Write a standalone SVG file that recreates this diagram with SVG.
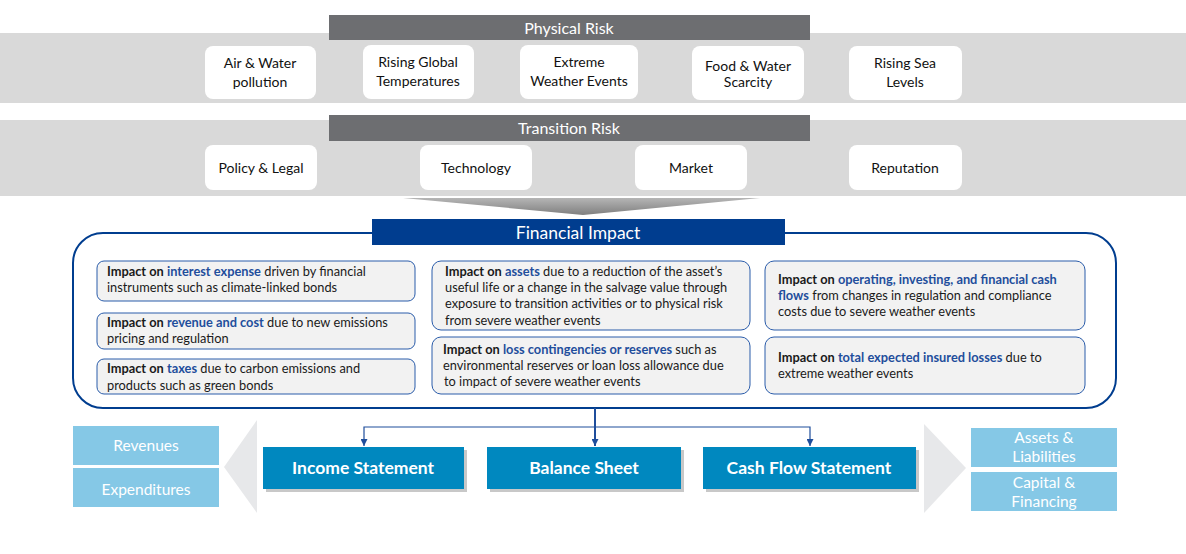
<svg xmlns="http://www.w3.org/2000/svg" width="1186" height="554" viewBox="0 0 1186 554">
<defs>
<style>
.t{font-family:Lato,"Open Sans","Liberation Sans",sans-serif;}
.band{fill:#d9d9d9;}
.hdr{fill:#6d6e71;}
.hdrt{fill:#fff;font-size:16px;text-anchor:middle;}
.wb{fill:#fff;}
.wbt{fill:#111;font-size:14px;text-anchor:middle;}
.ib{fill:#f2f2f2;stroke:#2a5caa;stroke-width:1;}
.it{fill:#1a1a1a;font-size:12.8px;}
.b{font-weight:bold;}
.hl{fill:#1f4e9c;font-weight:bold;}
.fs{fill:#0088bf;}
.sh{fill:#c8c8c8;}
.fst{fill:#fff;font-size:17.5px;font-weight:bold;text-anchor:middle;}
.lb{fill:#85c8e6;}
.lbt{fill:#fff;font-size:15.5px;text-anchor:middle;}
.tri{fill:#e7e8ea;}
.conn{fill:none;stroke:#1f4e9c;}
</style>
<linearGradient id="chev" x1="0" y1="0" x2="0" y2="1">
<stop offset="0" stop-color="#b5b5b5"/>
<stop offset="1" stop-color="#7f7f7f"/>
</linearGradient>
<marker id="ah" viewBox="0 0 10 10" refX="10" refY="5" markerWidth="7" markerHeight="7" orient="auto" markerUnits="userSpaceOnUse">
<path d="M0,0 L10,5 L0,10 z" fill="#1f4e9c"/>
</marker>
</defs>
<rect width="1186" height="554" fill="#fff"/>

<g id="physical-risk" class="t">
<rect class="band" x="0" y="33" width="1186" height="70"/>
<rect class="hdr" x="329" y="15" width="481" height="25"/>
<text class="hdrt" x="569" y="33.5">Physical Risk</text>
</g>
<g id="air-water" class="t"><rect class="wb" x="205" y="46" width="111" height="53" rx="8"/><text class="wbt" x="260" y="68">Air &amp; Water</text><text class="wbt" x="260" y="87">pollution</text></g>
<g id="rising-global" class="t"><rect class="wb" x="363" y="45" width="111" height="54" rx="8"/><text class="wbt" x="418" y="67">Rising Global</text><text class="wbt" x="418" y="86">Temperatures</text></g>
<g id="extreme-weather" class="t"><rect class="wb" x="520" y="45" width="118" height="54" rx="8"/><text class="wbt" x="579" y="67">Extreme</text><text class="wbt" x="579" y="86">Weather Events</text></g>
<g id="food-water" class="t"><rect class="wb" x="692" y="46" width="112" height="54" rx="8"/><text class="wbt" x="748" y="71">Food &amp; Water</text><text class="wbt" x="748" y="87">Scarcity</text></g>
<g id="rising-sea" class="t"><rect class="wb" x="849" y="46" width="113" height="54" rx="8"/><text class="wbt" x="905" y="68">Rising Sea</text><text class="wbt" x="905" y="87">Levels</text></g>

<g id="transition-risk" class="t">
<rect class="band" x="0" y="120" width="1186" height="76"/>
<rect class="hdr" x="329" y="115" width="481" height="26"/>
<text class="hdrt" x="569" y="134">Transition Risk</text>
</g>
<g id="policy-legal" class="t"><rect class="wb" x="205" y="145" width="112" height="45" rx="8"/><text class="wbt" x="261" y="172.5">Policy &amp; Legal</text></g>
<g id="technology" class="t"><rect class="wb" x="420" y="145" width="112" height="45" rx="8"/><text class="wbt" x="476" y="172.5">Technology</text></g>
<g id="market" class="t"><rect class="wb" x="635" y="145" width="112" height="45" rx="8"/><text class="wbt" x="691" y="172.5">Market</text></g>
<g id="reputation" class="t"><rect class="wb" x="849" y="145" width="113" height="45" rx="8"/><text class="wbt" x="905" y="172.5">Reputation</text></g>

<polygon id="chevron-down" points="403,198 760,198 583,215" fill="url(#chev)"/>

<g id="financial-impact" class="t">
<rect x="73" y="233" width="1043" height="175" rx="30" fill="#fff" stroke="#003d8f" stroke-width="2"/>
<rect x="372" y="219" width="413" height="26" fill="#003d8f"/>
<text x="578" y="238.5" fill="#fff" font-size="17.5" text-anchor="middle">Financial Impact</text>
</g>

<g id="impact-interest" class="t"><rect class="ib" x="97" y="261" width="318" height="40" rx="7"/>
<text class="it" x="107" y="276"><tspan class="b">Impact on </tspan><tspan class="hl">interest expense</tspan> driven by financial</text>
<text class="it" x="107" y="292">instruments such as climate-linked bonds</text></g>
<g id="impact-revenue" class="t"><rect class="ib" x="97" y="313" width="318" height="36" rx="7"/>
<text class="it" x="107" y="327"><tspan class="b">Impact on </tspan><tspan class="hl">revenue and cost</tspan> due to new emissions</text>
<text class="it" x="107" y="343">pricing and regulation</text></g>
<g id="impact-taxes" class="t"><rect class="ib" x="97" y="359" width="318" height="35" rx="7"/>
<text class="it" x="107" y="373"><tspan class="b">Impact on </tspan><tspan class="hl">taxes</tspan> due to carbon emissions and</text>
<text class="it" x="107" y="390">products such as green bonds</text></g>

<g id="impact-assets" class="t"><rect class="ib" x="432" y="261" width="318" height="69" rx="9"/>
<text class="it" x="445" y="276"><tspan class="b">Impact on </tspan><tspan class="hl">assets</tspan> due to a reduction of the asset’s</text>
<text class="it" x="445" y="292">useful life or a change in the salvage value through</text>
<text class="it" x="445" y="308">exposure to transition activities or to physical risk</text>
<text class="it" x="445" y="325">from severe weather events</text></g>
<g id="impact-loss" class="t"><rect class="ib" x="432" y="337" width="318" height="57" rx="9"/>
<text class="it" x="443" y="354"><tspan class="b">Impact on </tspan><tspan class="hl">loss contingencies or reserves</tspan> such as</text>
<text class="it" x="443" y="370">environmental reserves or loan loss allowance due</text>
<text class="it" x="444" y="386">to impact of severe weather events</text></g>

<g id="impact-cashflows" class="t"><rect class="ib" x="765" y="261" width="320" height="69" rx="9"/>
<text class="it" x="778" y="284"><tspan class="b">Impact on </tspan><tspan class="hl">operating, investing, and financial cash</tspan></text>
<text class="it" x="778" y="300"><tspan class="hl">flows</tspan> from changes in regulation and compliance</text>
<text class="it" x="778" y="316">costs due to severe weather events</text></g>
<g id="impact-insured" class="t"><rect class="ib" x="765" y="337" width="320" height="57" rx="9"/>
<text class="it" x="778" y="362"><tspan class="b">Impact on </tspan><tspan class="hl">total expected insured losses</tspan> due to</text>
<text class="it" x="778" y="378">extreme weather events</text></g>

<g id="connectors">
<line class="conn" x1="595" y1="408" x2="595" y2="446" stroke-width="2" marker-end="url(#ah)"/>
<polyline class="conn" points="595,427 364,427 364,446" stroke-width="1.2" marker-end="url(#ah)"/>
<polyline class="conn" points="595,427 810,427 810,446" stroke-width="1.2" marker-end="url(#ah)"/>
</g>

<g id="income-statement" class="t"><rect class="sh" x="266" y="450" width="201" height="42"/><rect class="fs" x="263" y="447" width="201" height="42"/><text class="fst" x="363" y="474">Income Statement</text></g>
<g id="balance-sheet" class="t"><rect class="sh" x="490" y="450" width="194" height="42"/><rect class="fs" x="487" y="447" width="194" height="42"/><text class="fst" x="584" y="474">Balance Sheet</text></g>
<g id="cash-flow-statement" class="t"><rect class="sh" x="706" y="450" width="213" height="42"/><rect class="fs" x="703" y="447" width="213" height="42"/><text class="fst" x="809" y="474">Cash Flow Statement</text></g>

<polygon id="left-arrow" class="tri" points="257,420 224,467 257,513"/>
<g id="revenues" class="t"><rect class="lb" x="73" y="426" width="146" height="39"/><text class="lbt" x="146" y="451">Revenues</text></g>
<g id="expenditures" class="t"><rect class="lb" x="73" y="468" width="146" height="39"/><text class="lbt" x="146" y="495">Expenditures</text></g>

<polygon id="right-arrow" class="tri" points="924,424 966,468 924,513"/>
<g id="assets-liabilities" class="t"><rect class="lb" x="971" y="428" width="146" height="39"/><text class="lbt" x="1044" y="443">Assets &amp;</text><text class="lbt" x="1044" y="462">Liabilities</text></g>
<g id="capital-financing" class="t"><rect class="lb" x="971" y="472" width="146" height="39"/><text class="lbt" x="1044" y="488">Capital &amp;</text><text class="lbt" x="1044" y="507">Financing</text></g>
</svg>
